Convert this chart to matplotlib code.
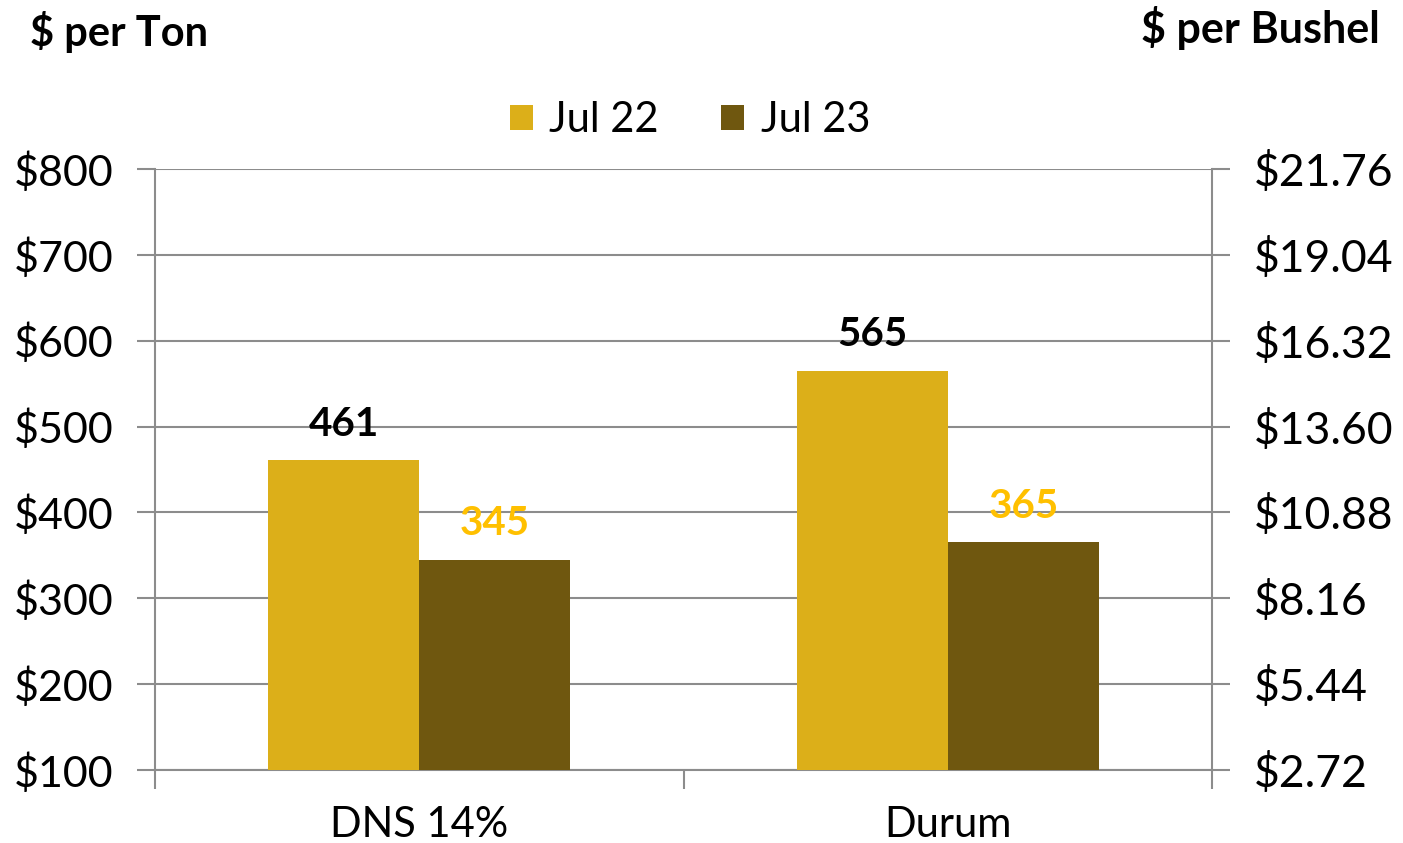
import numpy as np
import matplotlib
matplotlib.use("Agg")
import matplotlib.pyplot as plt
from matplotlib.ticker import FuncFormatter

categories = ["DNS 14%", "Durum"]
series_names = ["Jul 22", "Jul 23"]
jul22 = [461, 565]
jul23 = [345, 365]
ton_ticks = [100, 200, 300, 400, 500, 600, 700, 800]
bushel_factor = 0.0272

c22 = "#DCAF19"
c23 = "#6F570F"
grid_c = "#8C8C8C"

plt.rcParams["font.family"] = ["Lato", "DejaVu Sans"]

fig = plt.figure(figsize=(14.03, 8.43), dpi=100)
ax = fig.add_axes([0.1105, 0.0866, 0.7534, 0.7129])

x = np.arange(len(categories))
w = 0.286
b1 = ax.bar(x - w / 2, jul22, w, color=c22, label=series_names[0], zorder=3)
b2 = ax.bar(x + w / 2, jul23, w, color=c23, label=series_names[1], zorder=3)

for xi, v in zip(x - w / 2, jul22):
    ax.text(xi, v + 42, str(v), ha="center", va="center", fontsize=29,
            fontweight="bold", color="black", zorder=4)
for xi, v in zip(x + w / 2, jul23):
    ax.text(xi, v + 42, str(v), ha="center", va="center", fontsize=29,
            fontweight="bold", color="#FFC000", zorder=4)

ax.set_xlim(-0.5, 1.5)
ax.set_ylim(100, 800)
ax.set_yticks(ton_ticks)
ax.yaxis.set_major_formatter(FuncFormatter(lambda v, p: f"${v:.0f}"))
ax.grid(axis="y", color=grid_c, linewidth=1.5, zorder=0)

ax.set_xticks(x)
ax.set_xticklabels(categories)
ax.set_xticks([-0.5, 0.5, 1.5], minor=True)
ax.tick_params(axis="x", which="major", length=0, pad=26, labelsize=30)
ax.tick_params(axis="x", which="minor", length=14, width=1.5, color=grid_c)
ax.tick_params(axis="y", length=13, width=1.5, color=grid_c, labelsize=31, pad=17)

for s in ["left", "bottom"]:
    ax.spines[s].set_color(grid_c)
    ax.spines[s].set_linewidth(1.5)
ax.spines["top"].set_visible(False)
ax.spines["right"].set_visible(False)

ax2 = ax.twinx()
ax2.set_ylim(100 * bushel_factor, 800 * bushel_factor)
ax2.set_yticks([t * bushel_factor for t in ton_ticks])
ax2.yaxis.set_major_formatter(FuncFormatter(lambda v, p: f"${v:.2f}"))
ax2.tick_params(axis="y", length=13, width=1.5, color=grid_c, labelsize=32, pad=17)
for s in ["left", "bottom", "top"]:
    ax2.spines[s].set_visible(False)
ax2.spines["right"].set_color(grid_c)
ax2.spines["right"].set_linewidth(1.5)

fig.text(30 / 1403, 1 - 32 / 843, "$ per Ton", fontsize=30, fontweight="bold",
         ha="left", va="center")
fig.text(1380 / 1403, 1 - 28 / 843, "$ per Bushel", fontsize=31, fontweight="bold",
         ha="right", va="center")

fig.legend(handles=[b1, b2], labels=series_names, loc="center",
           bbox_to_anchor=(690 / 1403, 1 - 120 / 843), ncol=2, frameon=False,
           fontsize=30, handlelength=0.55, handleheight=0.55, handletextpad=0.4,
           columnspacing=1.5)

fig.savefig("out.png", dpi=100)
